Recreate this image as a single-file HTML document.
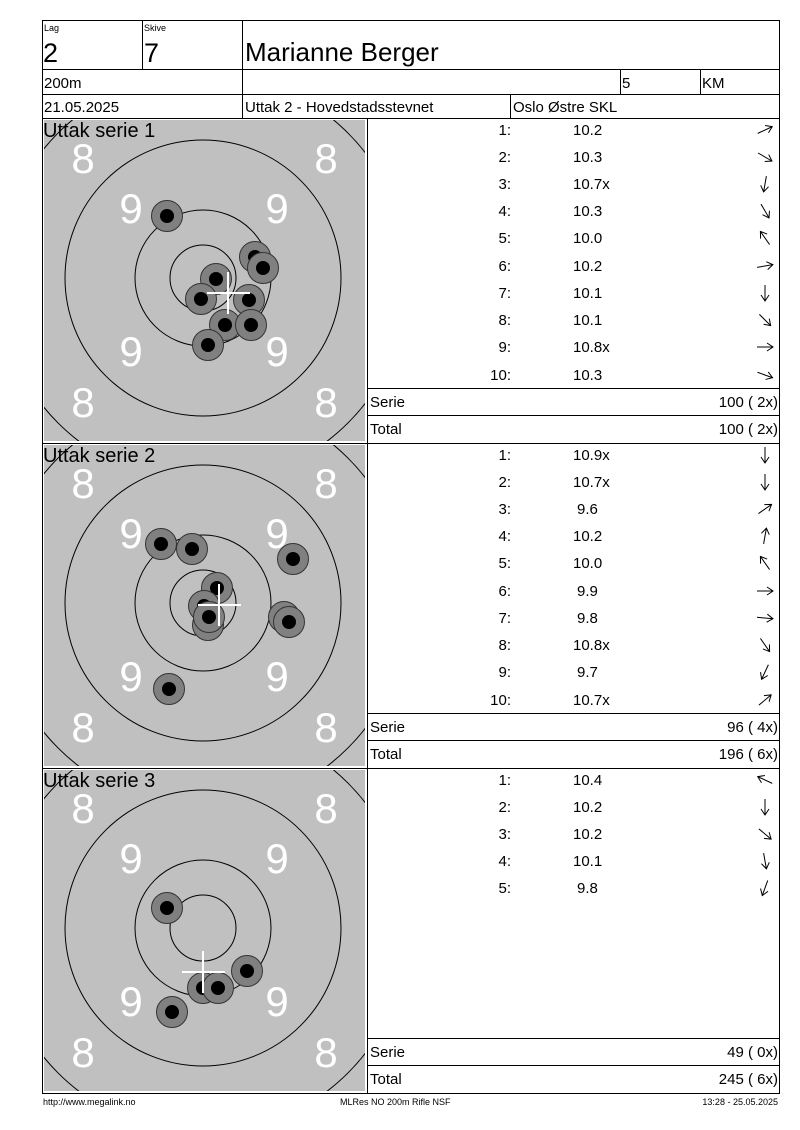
<!DOCTYPE html>
<html><head><meta charset="utf-8"><style>
body{margin:0;background:#fff}
svg{display:block}
text{font-family:"Liberation Sans",Arial,sans-serif}
</style></head><body>
<svg width="800" height="1130" viewBox="0 0 800 1130" xmlns="http://www.w3.org/2000/svg">
<defs>
<g id="ar"><line x1="-8" y1="0" x2="8" y2="0" stroke="#000" stroke-width="1"/><polyline points="2,-4 8,0 2,4" fill="none" stroke="#000" stroke-width="1"/></g>
<g id="shot"><circle r="15.5" fill="#808080" stroke="#333" stroke-width="1"/><circle r="7" fill="#000"/></g>
<clipPath id="c0"><rect x="44" y="120" width="321" height="321"/></clipPath>
<clipPath id="c1"><rect x="44" y="445" width="321" height="321"/></clipPath>
<clipPath id="c2"><rect x="44" y="770" width="321" height="321"/></clipPath>
</defs>
<g fill="none" stroke="#000" stroke-width="1">
<rect x="42.5" y="20.5" width="737" height="1073"/>
<line x1="42" y1="69.5" x2="780" y2="69.5"/>
<line x1="42" y1="94.5" x2="780" y2="94.5"/>
<line x1="42" y1="118.5" x2="780" y2="118.5"/>
<line x1="142.5" y1="20" x2="142.5" y2="69"/>
<line x1="242.5" y1="20" x2="242.5" y2="118"/>
<line x1="620.5" y1="69" x2="620.5" y2="94"/>
<line x1="700.5" y1="69" x2="700.5" y2="94"/>
<line x1="510.5" y1="94" x2="510.5" y2="118"/>
<line x1="367.5" y1="118" x2="367.5" y2="1093"/>
<line x1="42" y1="443.5" x2="780" y2="443.5"/>
<line x1="42" y1="768.5" x2="780" y2="768.5"/>
<line x1="367" y1="388.5" x2="780" y2="388.5"/>
<line x1="367" y1="415.5" x2="780" y2="415.5"/>
<line x1="367" y1="713.5" x2="780" y2="713.5"/>
<line x1="367" y1="740.5" x2="780" y2="740.5"/>
<line x1="367" y1="1038.5" x2="780" y2="1038.5"/>
<line x1="367" y1="1065.5" x2="780" y2="1065.5"/>
</g>
<text x="44" y="31" font-size="9">Lag</text>
<text x="144" y="31" font-size="9">Skive</text>
<text x="43" y="62" font-size="27">2</text>
<text x="144" y="62" font-size="27">7</text>
<text x="245" y="61" font-size="26">Marianne Berger</text>
<text x="44" y="88" font-size="15">200m</text>
<text x="622" y="88" font-size="15">5</text>
<text x="702" y="88" font-size="15">KM</text>
<text x="44" y="112" font-size="15">21.05.2025</text>
<text x="245" y="112" font-size="15">Uttak 2 - Hovedstadsstevnet</text>
<text x="513" y="112" font-size="15">Oslo Østre SKL</text>

<!-- Section 1 -->
<rect x="44" y="120" width="321" height="321" fill="#c0c0c0"/>
<g clip-path="url(#c0)" fill="none" stroke="#000" stroke-width="1">
<circle cx="203" cy="278" r="205"/><circle cx="203" cy="278" r="138"/><circle cx="203" cy="278" r="68"/><circle cx="203" cy="278" r="33"/>
</g>
<g fill="#fff" font-size="42" text-anchor="middle">
<text x="83" y="173">8</text><text x="326" y="173">8</text><text x="83" y="417">8</text><text x="326" y="417">8</text>
<text x="131" y="223">9</text><text x="277" y="223">9</text><text x="131" y="366">9</text><text x="277" y="366">9</text>
</g>
<use href="#shot" x="167" y="216"/><use href="#shot" x="255" y="257"/><use href="#shot" x="263" y="268"/><use href="#shot" x="216" y="279"/><use href="#shot" x="201" y="299"/><use href="#shot" x="249" y="300"/><use href="#shot" x="225" y="325"/><use href="#shot" x="251" y="325"/><use href="#shot" x="208" y="345"/>
<g stroke="#fff" stroke-width="2"><line x1="207" y1="293" x2="250" y2="293"/><line x1="228" y1="272" x2="228" y2="314"/></g>
<text x="43" y="137" font-size="20">Uttak serie 1</text>

<!-- Section 2 -->
<rect x="44" y="445" width="321" height="321" fill="#c0c0c0"/>
<g clip-path="url(#c1)" fill="none" stroke="#000" stroke-width="1">
<circle cx="203" cy="603" r="205"/><circle cx="203" cy="603" r="138"/><circle cx="203" cy="603" r="68"/><circle cx="203" cy="603" r="33"/>
</g>
<g fill="#fff" font-size="42" text-anchor="middle">
<text x="83" y="498">8</text><text x="326" y="498">8</text><text x="83" y="742">8</text><text x="326" y="742">8</text>
<text x="131" y="548">9</text><text x="277" y="548">9</text><text x="131" y="691">9</text><text x="277" y="691">9</text>
</g>
<use href="#shot" x="161" y="544"/><use href="#shot" x="192" y="549"/><use href="#shot" x="293" y="559"/><use href="#shot" x="217" y="588"/><use href="#shot" x="204" y="606"/><use href="#shot" x="284" y="617"/><use href="#shot" x="289" y="622"/><use href="#shot" x="208" y="625"/><use href="#shot" x="209" y="617"/><use href="#shot" x="169" y="689"/>
<g stroke="#fff" stroke-width="2"><line x1="198" y1="605" x2="241" y2="605"/><line x1="219" y1="584" x2="219" y2="626"/></g>
<text x="43" y="462" font-size="20">Uttak serie 2</text>

<!-- Section 3 -->
<rect x="44" y="770" width="321" height="321" fill="#c0c0c0"/>
<g clip-path="url(#c2)" fill="none" stroke="#000" stroke-width="1">
<circle cx="203" cy="928" r="205"/><circle cx="203" cy="928" r="138"/><circle cx="203" cy="928" r="68"/><circle cx="203" cy="928" r="33"/>
</g>
<g fill="#fff" font-size="42" text-anchor="middle">
<text x="83" y="823">8</text><text x="326" y="823">8</text><text x="83" y="1067">8</text><text x="326" y="1067">8</text>
<text x="131" y="873">9</text><text x="277" y="873">9</text><text x="131" y="1016">9</text><text x="277" y="1016">9</text>
</g>
<use href="#shot" x="167" y="908"/><use href="#shot" x="247" y="971"/><use href="#shot" x="203" y="988"/><use href="#shot" x="218" y="988"/><use href="#shot" x="172" y="1012"/>
<g stroke="#fff" stroke-width="2"><line x1="182" y1="972" x2="225" y2="972"/><line x1="203" y1="951" x2="203" y2="993"/></g>
<text x="43" y="787" font-size="20">Uttak serie 3</text>

<!-- Tables -->
<g font-size="15">
<g text-anchor="end">
<text x="511" y="135">1:</text><text x="511" y="162">2:</text><text x="511" y="189">3:</text><text x="511" y="216">4:</text><text x="511" y="243">5:</text><text x="511" y="271">6:</text><text x="511" y="298">7:</text><text x="511" y="325">8:</text><text x="511" y="352">9:</text><text x="511" y="380">10:</text>
<text x="511" y="460">1:</text><text x="511" y="487">2:</text><text x="511" y="514">3:</text><text x="511" y="541">4:</text><text x="511" y="568">5:</text><text x="511" y="596">6:</text><text x="511" y="623">7:</text><text x="511" y="650">8:</text><text x="511" y="677">9:</text><text x="511" y="705">10:</text>
<text x="511" y="785">1:</text><text x="511" y="812">2:</text><text x="511" y="839">3:</text><text x="511" y="866">4:</text><text x="511" y="893">5:</text>
<text x="778" y="407">100 ( 2x)</text><text x="778" y="434">100 ( 2x)</text>
<text x="778" y="732">96 ( 4x)</text><text x="778" y="759">196 ( 6x)</text>
<text x="778" y="1057">49 ( 0x)</text><text x="778" y="1084">245 ( 6x)</text>
</g>
<text x="573" y="135">10.2</text><text x="573" y="162">10.3</text><text x="573" y="189">10.7x</text><text x="573" y="216">10.3</text><text x="573" y="243">10.0</text><text x="573" y="271">10.2</text><text x="573" y="298">10.1</text><text x="573" y="325">10.1</text><text x="573" y="352">10.8x</text><text x="573" y="380">10.3</text>
<text x="573" y="460">10.9x</text><text x="573" y="487">10.7x</text><text x="577" y="514">9.6</text><text x="573" y="541">10.2</text><text x="573" y="568">10.0</text><text x="577" y="596">9.9</text><text x="577" y="623">9.8</text><text x="573" y="650">10.8x</text><text x="577" y="677">9.7</text><text x="573" y="705">10.7x</text>
<text x="573" y="785">10.4</text><text x="573" y="812">10.2</text><text x="573" y="839">10.2</text><text x="573" y="866">10.1</text><text x="577" y="893">9.8</text>
<text x="370" y="407">Serie</text><text x="370" y="434">Total</text>
<text x="370" y="732">Serie</text><text x="370" y="759">Total</text>
<text x="370" y="1057">Serie</text><text x="370" y="1084">Total</text>
</g>
<!-- arrows -->
<use href="#ar" transform="translate(765,130) rotate(-25)"/>
<use href="#ar" transform="translate(765,157) rotate(30)"/>
<use href="#ar" transform="translate(765,184) rotate(100)"/>
<use href="#ar" transform="translate(765,211) rotate(60)"/>
<use href="#ar" transform="translate(765,238) rotate(235)"/>
<use href="#ar" transform="translate(765,266) rotate(-10)"/>
<use href="#ar" transform="translate(765,293) rotate(90)"/>
<use href="#ar" transform="translate(765,320) rotate(45)"/>
<use href="#ar" transform="translate(765,347) rotate(0)"/>
<use href="#ar" transform="translate(765,375) rotate(20)"/>
<use href="#ar" transform="translate(765,455) rotate(90)"/>
<use href="#ar" transform="translate(765,482) rotate(90)"/>
<use href="#ar" transform="translate(765,509) rotate(-35)"/>
<use href="#ar" transform="translate(765,536) rotate(-80)"/>
<use href="#ar" transform="translate(765,563) rotate(235)"/>
<use href="#ar" transform="translate(765,591) rotate(0)"/>
<use href="#ar" transform="translate(765,618) rotate(5)"/>
<use href="#ar" transform="translate(765,645) rotate(55)"/>
<use href="#ar" transform="translate(765,672) rotate(115)"/>
<use href="#ar" transform="translate(765,700) rotate(-40)"/>
<use href="#ar" transform="translate(765,780) rotate(205)"/>
<use href="#ar" transform="translate(765,807) rotate(90)"/>
<use href="#ar" transform="translate(765,834) rotate(40)"/>
<use href="#ar" transform="translate(765,861) rotate(80)"/>
<use href="#ar" transform="translate(765,888) rotate(110)"/>
<!-- footer -->
<g font-size="9">
<text x="43" y="1105">http://www.megalink.no</text>
<text x="340" y="1105">MLRes NO 200m Rifle NSF</text>
<text x="778" y="1105" text-anchor="end">13:28 - 25.05.2025</text>
</g>
</svg>
</body></html>
